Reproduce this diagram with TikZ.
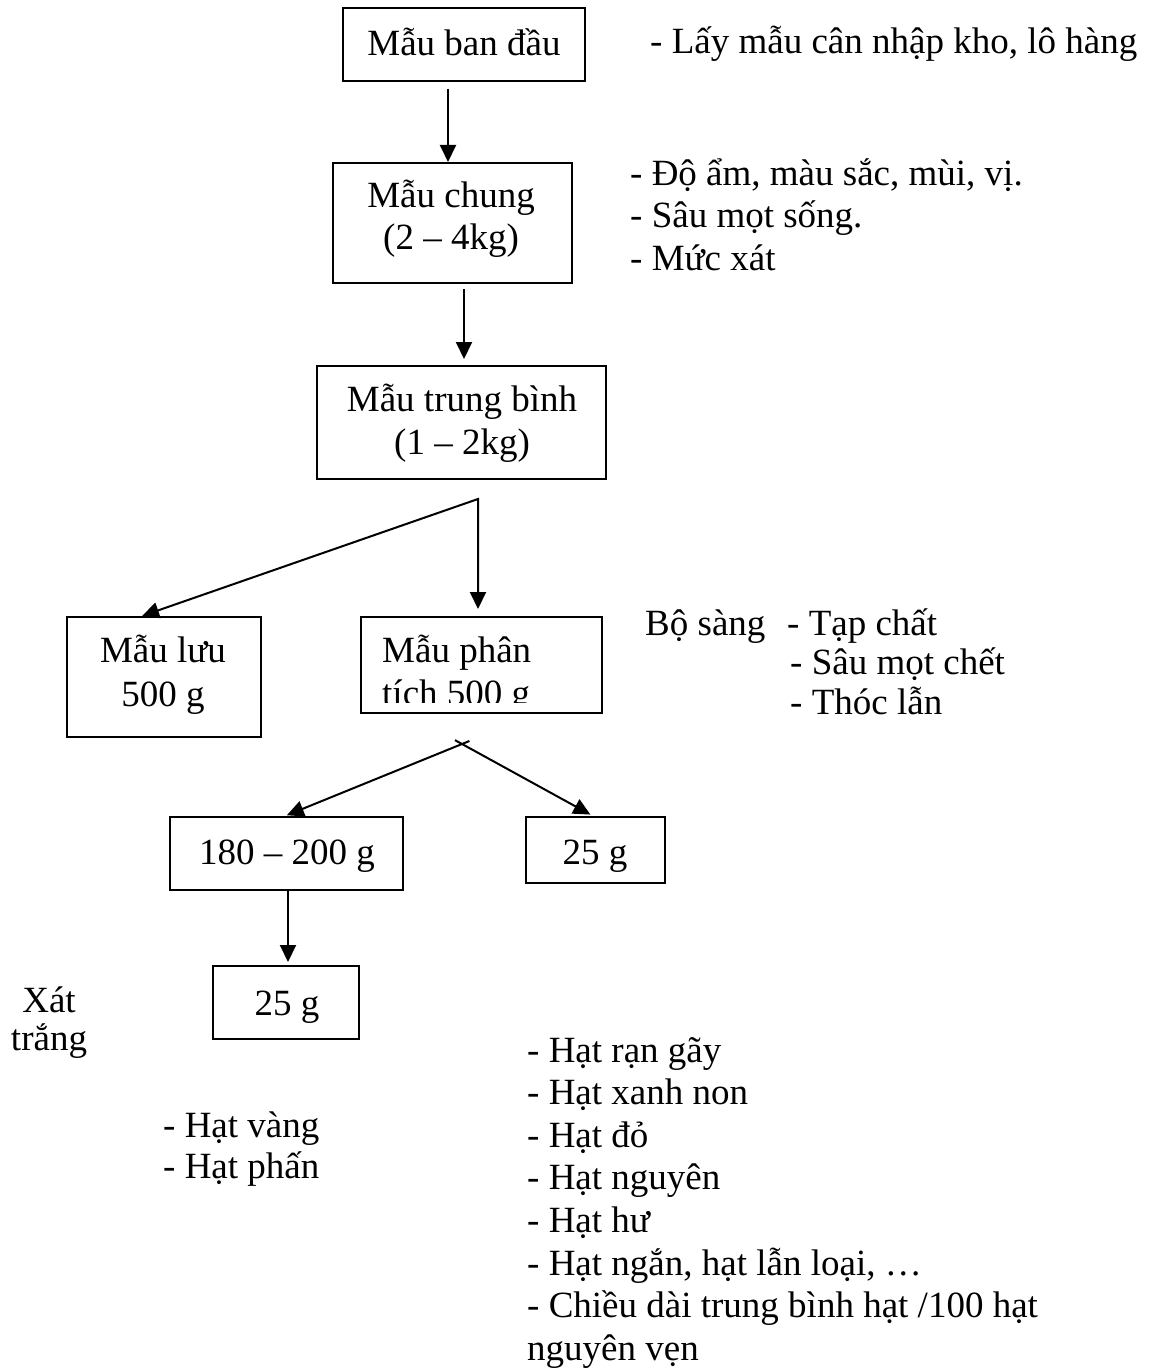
\documentclass[tikz,border=0pt]{standalone}
\usepackage{fontspec}
\setmainfont{Liberation Serif}
\usetikzlibrary{arrows.meta}
\begin{document}
\begin{tikzpicture}[x=1pt,y=-1pt,
  box/.style={draw, line width=2pt, inner sep=0pt, rectangle},
  txt/.style={inner sep=0pt, anchor=base, font=\fontsize{37}{43}\selectfont},
  ltxt/.style={txt, anchor=base west},
  arr/.style={line width=2pt, -{Triangle[length=17pt,width=16pt]}},
]
\useasboundingbox (0,0) rectangle (1151,1372);

% boxes of the sampling scheme
\node[box, minimum width=242pt, minimum height=73pt]  (b1) at (464,44.5) {};
\node[box, minimum width=239pt, minimum height=120pt] (b2) at (452.5,223) {};
\node[box, minimum width=289pt, minimum height=113pt] (b3) at (461.5,422.5) {};
\node[box, minimum width=194pt, minimum height=120pt] (b4) at (164,677) {};
\node[box, minimum width=241pt, minimum height=96pt]  (b5) at (481.5,665) {};
\node[box, minimum width=233pt, minimum height=73pt]  (b6) at (286.5,853.5) {};
\node[box, minimum width=139pt, minimum height=66pt]  (b7) at (595.5,850) {};
\node[box, minimum width=146pt, minimum height=73pt]  (b8) at (286,1002.5) {};

% texts inside the boxes
\node[txt] (t1)  at (464,56)  {Mẫu ban đầu};
\node[txt] (t2a) at (451,208) {Mẫu chung};
\node[txt] (t2b) at (451,249) {(2 – 4kg)};
\node[txt] (t3a) at (462,411) {Mẫu trung bình};
\node[txt] (t3b) at (462,454) {(1 – 2kg)};
\node[txt] (t4a) at (163,662) {Mẫu lưu};
\node[txt] (t4b) at (163,706) {500 g};
\begin{scope}
  \clip (363,619) rectangle (600,702);
  \node[ltxt] (t5a) at (382,662) {Mẫu phân};
  \node[ltxt] (t5b) at (382,705) {tích 500 g};
\end{scope}
\node[txt] (t6) at (287,864)  {180 – 200 g};
\node[txt] (t7) at (595,864)  {25 g};
\node[txt] (t8) at (287,1015) {25 g};

% connectors
\draw[arr, shorten <=7pt] (448,0 |- b1.south) -- (448,0 |- b2.north);
\draw[arr, shorten <=5pt, shorten >=6pt] (464,0 |- b2.south) -- (464,0 |- b3.north);
\coordinate (s1) at (478,499);
\draw[line width=2pt, {Triangle[length=17pt,width=16pt]}-{Triangle[length=17pt,width=16pt]}, shorten >=7pt]
  (142,0 |- b4.north) -- (s1) -- (s1 |- b5.north);
\coordinate (s2) at (462,744);
\draw[arr, shorten <=-8pt, shorten >=2pt] (s2) -- (285,0 |- b6.north);
\draw[arr, shorten <=-8pt, shorten >=3pt] (s2) -- (593,0 |- b7.north);
\draw[arr, shorten >=3pt] (288,0 |- b6.south) -- (288,0 |- b8.north);

% notes
\node[ltxt] (n1)  at (650,54)  {- Lấy mẫu cân nhập kho, lô hàng};
\node[ltxt] (n2a) at (630,186) {- Độ ẩm, màu sắc, mùi, vị.};
\node[ltxt] (n2b) at (630,228) {- Sâu mọt sống.};
\node[ltxt] (n2c) at (630,270) {- Mức xát};
\node[ltxt] (n3)  at (645,635) {Bộ sàng};
\node[ltxt] (n3a) at (787,635) {- Tạp chất};
\node[ltxt] (n3b) at (790,674) {- Sâu mọt chết};
\node[ltxt] (n3c) at (790,714) {- Thóc lẫn};
\node[txt]  (n4a) at (49,1012) {Xát};
\node[txt]  (n4b) at (49,1050) {trắng};
\node[ltxt] (n5a) at (163,1137) {- Hạt vàng};
\node[ltxt] (n5b) at (163,1178) {- Hạt phấn};
\node[ltxt] (n6a) at (527,1062)   {- Hạt rạn gãy};
\node[ltxt] (n6b) at (527,1104.6) {- Hạt xanh non};
\node[ltxt] (n6c) at (527,1147.2) {- Hạt đỏ};
\node[ltxt] (n6d) at (527,1189.8) {- Hạt nguyên};
\node[ltxt] (n6e) at (527,1232.4) {- Hạt hư};
\node[ltxt] (n6f) at (527,1275)   {- Hạt ngắn, hạt lẫn loại, …};
\node[ltxt] (n6g) at (527,1317.6) {- Chiều dài trung bình hạt /100 hạt};
\node[ltxt] (n6h) at (527,1360.2) {nguyên vẹn};
\end{tikzpicture}
\end{document}
